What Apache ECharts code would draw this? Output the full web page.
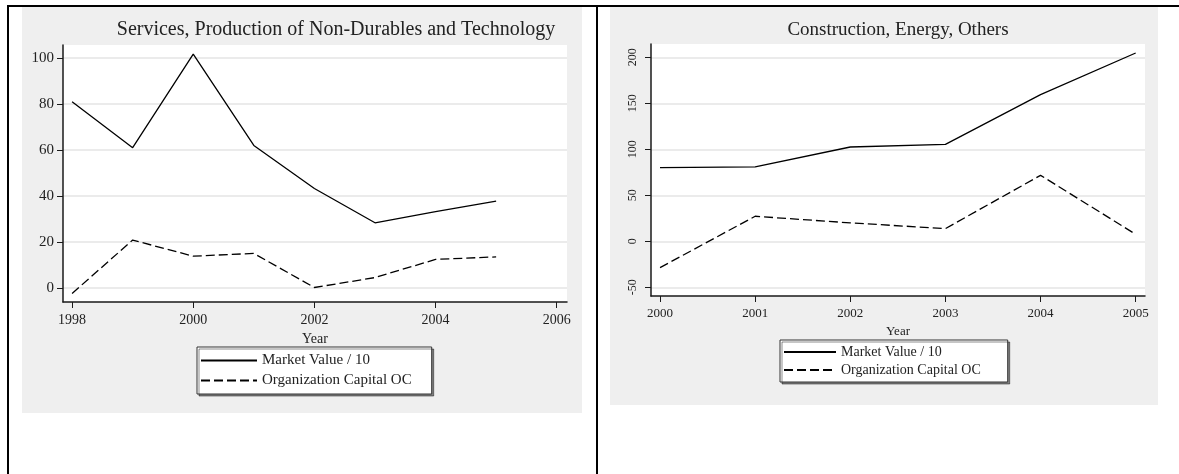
<!DOCTYPE html>
<html>
<head>
<meta charset="utf-8">
<script src="https://cdn.jsdelivr.net/npm/echarts@6/dist/echarts.min.js"></script>
<style>
  html, body { margin: 0; padding: 0; background: #fff; }
  #main { width: 1179px; height: 474px; }
</style>
</head>
<body>
<div id="main"></div>
<script>
// left panel: services, non-durables, technology
var leftYears = [1998, 1999, 2000, 2001, 2002, 2003, 2004, 2005];
var leftMarket = [81, 61, 101.6, 62, 43.3, 28.4, 33.2, 37.8];
var leftOC = [-2.3, 20.9, 13.9, 15.1, 0.3, 4.6, 12.5, 13.6];
var leftXTicks = [1998, 2000, 2002, 2004, 2006];
var leftYTicks = [0, 20, 40, 60, 80, 100];

// right panel: construction, energy, others
var rightYears = [2000, 2001, 2002, 2003, 2004, 2005];
var rightMarket = [80, 80.8, 102.5, 105.4, 159.5, 204.7];
var rightOC = [-28.6, 27.2, 20, 13.8, 71.7, 7.6];
var rightXTicks = [2000, 2001, 2002, 2003, 2004, 2005];
var rightYTicks = [-50, 0, 50, 100, 150, 200];

var serif = 'Liberation Serif';
var ink = '#1a1a1a';

function pairs(xs, ys) {
    return xs.map(function (x, i) { return [x, ys[i]]; });
}

function xAxisFor(idx, min, max, ticks, fs) {
    return {
        type: 'value', gridIndex: idx, min: min, max: max,
        name: 'Year', nameLocation: 'middle', nameGap: 18,
        nameTextStyle: { fontFamily: serif, fontSize: fs, color: '#222' },
        axisLine: { show: true, onZero: false, lineStyle: { color: ink, width: 1.5 } },
        axisTick: { show: true, length: 6, customValues: ticks, lineStyle: { color: ink } },
        axisLabel: { customValues: ticks, margin: 11, fontFamily: serif, fontSize: fs, color: '#222',
            formatter: function (v) { return String(v); } },
        splitLine: { show: false }
    };
}

function yAxisFor(idx, min, max, ticks, fs, rot) {
    return {
        type: 'value', gridIndex: idx, min: min, max: max,
        axisLine: { show: true, onZero: false, lineStyle: { color: ink, width: 1.5 } },
        axisTick: { show: true, length: 6, customValues: ticks, lineStyle: { color: ink } },
        axisLabel: { customValues: ticks, margin: rot ? 12 : 9, rotate: rot, fontFamily: serif,
            fontSize: fs, color: '#222' },
        splitLine: { show: true, lineStyle: { color: '#e4e4e4', width: 1.5 } }
    };
}

function lineSeries(name, idx, data, dashed) {
    return {
        name: name, type: 'line', xAxisIndex: idx, yAxisIndex: idx,
        data: data, symbol: 'none', animation: false,
        lineStyle: { color: '#000', width: 1.3, type: dashed ? [9, 4] : 'solid' },
        itemStyle: { color: '#000' }
    };
}

var myChart = echarts.init(document.getElementById('main'));
var option = {
    backgroundColor: '#fff',
    animation: false,
    graphic: [
        { type: 'rect', z: -10, shape: { x: 22, y: 7, width: 560, height: 406 }, style: { fill: '#efefef' } },
        { type: 'rect', z: -10, shape: { x: 610, y: 7, width: 548, height: 398 }, style: { fill: '#efefef' } },
        { type: 'line', z: 10, shape: { x1: 7, y1: 6, x2: 1179, y2: 6 }, style: { stroke: '#000', lineWidth: 2 } },
        { type: 'line', z: 10, shape: { x1: 8, y1: 5, x2: 8, y2: 474 }, style: { stroke: '#000', lineWidth: 2 } },
        { type: 'line', z: 10, shape: { x1: 597, y1: 5, x2: 597, y2: 474 }, style: { stroke: '#000', lineWidth: 2 } }
    ],
    title: [{
        text: 'Services, Production of Non-Durables and Technology',
        left: 336, top: 20, textAlign: 'center', padding: 0,
        textStyle: { fontFamily: serif, fontSize: 20, fontWeight: 'normal', color: '#222' }
    }, {
        text: 'Construction, Energy, Others',
        left: 898, top: 21, textAlign: 'center', padding: 0,
        textStyle: { fontFamily: serif, fontSize: 19, fontWeight: 'normal', color: '#222' }
    }],
    legend: [{
        orient: 'vertical', left: 197, top: 347,
        data: ['Market Value / 10', 'Organization Capital OC'],
        itemWidth: 56, itemHeight: 12, itemGap: 5,
        padding: [6, 20, 6, 3],
        itemStyle: { opacity: 0 },
        backgroundColor: '#fff', borderColor: '#333', borderWidth: 1,
        shadowColor: 'rgba(0,0,0,0.45)', shadowOffsetX: 2, shadowOffsetY: 2, shadowBlur: 0,
        textStyle: { fontFamily: serif, fontSize: 15, color: '#222' },
        selectedMode: false
    }, {
        orient: 'vertical', left: 780, top: 340,
        data: ['Market Value / 10', 'Organization Capital OC'],
        itemWidth: 52, itemHeight: 12, itemGap: 4,
        padding: [5, 27, 5, 3],
        itemStyle: { opacity: 0 },
        backgroundColor: '#fff', borderColor: '#333', borderWidth: 1,
        shadowColor: 'rgba(0,0,0,0.45)', shadowOffsetX: 2, shadowOffsetY: 2, shadowBlur: 0,
        textStyle: { fontFamily: serif, fontSize: 14, color: '#222' },
        selectedMode: false
    }],
    grid: [
        { left: 63, top: 45, width: 504, height: 257, show: true, backgroundColor: '#fff', borderWidth: 0 },
        { left: 651, top: 44, width: 494, height: 252, show: true, backgroundColor: '#fff', borderWidth: 0 }
    ],
    xAxis: [
        xAxisFor(0, 1997.85, 2006.17, leftXTicks, 14),
        xAxisFor(1, 1999.905, 2005.098, rightXTicks, 13)
    ],
    yAxis: [
        yAxisFor(0, -6, 105.6, leftYTicks, 15, 0),
        yAxisFor(1, -59.5, 214.5, rightYTicks, 12, 90)
    ],
    series: [
        lineSeries('Market Value / 10', 0, pairs(leftYears, leftMarket), false),
        lineSeries('Organization Capital OC', 0, pairs(leftYears, leftOC), true),
        lineSeries('Market Value / 10', 1, pairs(rightYears, rightMarket), false),
        lineSeries('Organization Capital OC', 1, pairs(rightYears, rightOC), true)
    ]
};
myChart.setOption(option);
</script>
</body>
</html>
